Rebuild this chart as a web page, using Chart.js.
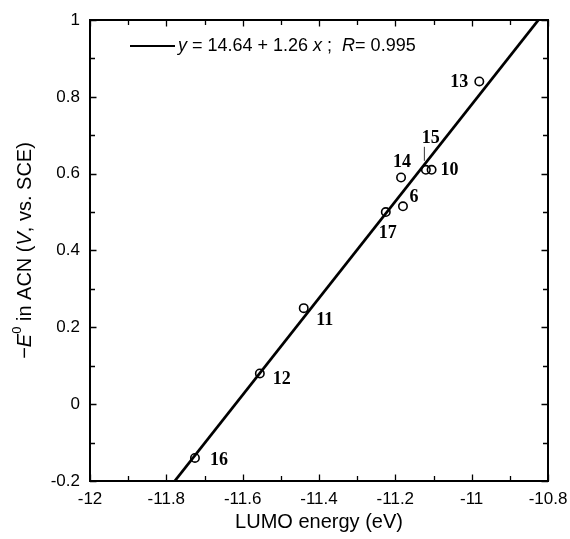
<!DOCTYPE html>
<html>
<head>
<meta charset="utf-8">
<script src="https://cdn.jsdelivr.net/npm/chart.js@4"></script>
<style>
  html, body { margin: 0; padding: 0; background: #fff; }
  #wrap { width: 570px; height: 539px; }
</style>
</head>
<body>
<div id="wrap"><canvas id="c" width="570" height="539"></canvas></div>
<script>
// ---- data ----
const compoundIds = ['6', '10', '11', '12', '13', '14', '15', '16', '17'];
const lumoEnergy  = [-11.18, -11.105, -11.44, -11.555, -10.98, -11.185, -11.12, -11.725, -11.225];
const minusE0     = [0.515, 0.61, 0.25, 0.08, 0.84, 0.59, 0.61, -0.14, 0.50];
const fitX = [-11.778, -10.825];
const fitY = [-0.2, 1.0];
const xTicks = [-12, -11.8, -11.6, -11.4, -11.2, -11, -10.8];
const yTicks = [-0.2, 0, 0.2, 0.4, 0.6, 0.8, 1];
const legendParts = [['y', true], [' = 14.64 + 1.26 ', false], ['x', true], [' ;  ', false], ['R', true], ['= 0.995', false]];

// ---- styles (label offsets in px relative to each point) ----
const labelOffsets = {
  '6': [11, -9], '10': [18, 1], '11': [21, 12], '12': [22, 6], '13': [-20, 1],
  '14': [1, -15], '15': [5, -31], '16': [24, 2], '17': [2, 21]
};
const SANS = '"Liberation Sans", Arial, sans-serif';
const SERIF = '"Liberation Serif", "Times New Roman", serif';

const pointData = lumoEnergy.map((x, i) => ({ x: x, y: minusE0[i] }));
const lineData = fitX.map((x, i) => ({ x: x, y: fitY[i] }));

function fmt(v) { return String(Number(v.toFixed(1))); }

const decor = {
  id: 'decor',
  afterDraw(chart) {
    const ctx = chart.ctx;
    const a = chart.chartArea;
    const xs = chart.scales.x, ys = chart.scales.y;
    ctx.save();
    ctx.strokeStyle = '#000';
    ctx.fillStyle = '#000';
    // frame
    ctx.lineWidth = 2;
    ctx.strokeRect(a.left, a.top, a.right - a.left, a.bottom - a.top);
    // inward ticks (major + minor) on all four sides
    ctx.lineWidth = 1.3;
    const xmin = -12, ymin = -0.2;
    for (let k = 0; k <= 12; k++) {
      const v = xmin + k * 0.1;
      const px = Math.round(xs.getPixelForValue(v)) + 0.5;
      const len = (k % 2 === 0) ? 6.5 : 5;
      ctx.beginPath();
      ctx.moveTo(px, a.bottom); ctx.lineTo(px, a.bottom - len);
      ctx.moveTo(px, a.top); ctx.lineTo(px, a.top + len);
      ctx.stroke();
    }
    for (let k = 0; k <= 12; k++) {
      const v = ymin + k * 0.1;
      const py = Math.round(ys.getPixelForValue(v)) + 0.5;
      const len = (k % 2 === 0) ? 6.5 : 5;
      ctx.beginPath();
      ctx.moveTo(a.left, py); ctx.lineTo(a.left + len, py);
      ctx.moveTo(a.right, py); ctx.lineTo(a.right - len, py);
      ctx.stroke();
    }
    // point labels
    const meta = chart.getDatasetMeta(1);
    ctx.font = 'bold 18px ' + SERIF;
    ctx.textAlign = 'center';
    ctx.textBaseline = 'middle';
    meta.data.forEach((el, i) => {
      const id = compoundIds[i];
      const off = labelOffsets[id];
      ctx.fillText(id, el.x + off[0], el.y + off[1]);
      if (id === '15') {
        ctx.lineWidth = 0.8;
        ctx.beginPath();
        ctx.moveTo(el.x - 1.5, el.y - 23);
        ctx.lineTo(el.x - 1.5, el.y - 9);
        ctx.stroke();
      }
    });
    // legend
    ctx.lineWidth = 2;
    ctx.beginPath();
    ctx.moveTo(130, 46); ctx.lineTo(175, 46);
    ctx.stroke();
    ctx.textAlign = 'left';
    let x = 178;
    legendParts.forEach(([t, it]) => {
      ctx.font = (it ? 'italic ' : '') + '18px ' + SANS;
      ctx.fillText(t, x, 46);
      x += ctx.measureText(t).width;
    });
    // x title
    ctx.font = '20px ' + SANS;
    ctx.textAlign = 'center';
    ctx.fillText('LUMO energy (eV)', (a.left + a.right) / 2, 522);
    // y title (rotated)
    const parts = [['\u2212', '', 20, 0], ['E', 'italic ', 20, 0], ['0', '', 13, -8], [' in ACN (', '', 20, 0], ['V', 'italic ', 20, 0], [', vs. SCE)', '', 20, 0]];
    ctx.translate(25, (a.top + a.bottom) / 2);
    ctx.rotate(-Math.PI / 2);
    let total = 0;
    parts.forEach(p => { ctx.font = p[1] + p[2] + 'px ' + SANS; total += ctx.measureText(p[0]).width; });
    let cx = -total / 2;
    ctx.textAlign = 'left';
    parts.forEach(p => {
      ctx.font = p[1] + p[2] + 'px ' + SANS;
      ctx.fillText(p[0], cx, p[3]);
      cx += ctx.measureText(p[0]).width;
    });
    ctx.restore();
  }
};

new Chart(document.getElementById('c'), {
  type: 'scatter',
  data: {
    datasets: [
      {
        label: 'fit',
        data: lineData,
        showLine: true,
        borderColor: '#000',
        borderWidth: 2.8,
        pointRadius: 0,
        fill: false
      },
      {
        label: 'compounds',
        data: pointData,
        pointStyle: 'circle',
        pointRadius: 4.2,
        pointBorderWidth: 1.6,
        pointBorderColor: '#000',
        pointBackgroundColor: 'rgba(0,0,0,0)',
        showLine: false
      }
    ]
  },
  options: {
    responsive: false,
    animation: false,
    events: [],
    layout: { padding: { top: 20, right: 22, left: 0, bottom: 0 } },
    plugins: { legend: { display: false }, tooltip: { enabled: false } },
    scales: {
      x: {
        type: 'linear',
        min: -12, max: -10.8,
        afterFit(s) { s.height = 58; s.paddingLeft = 0; s.paddingRight = 0; },
        afterBuildTicks(s) { s.ticks = xTicks.map(v => ({ value: v })); },
        grid: { display: false, drawTicks: false },
        border: { display: false },
        ticks: { color: '#000', font: { family: SANS, size: 17 }, padding: 8, maxRotation: 0, autoSkip: false, callback: v => fmt(v) }
      },
      y: {
        type: 'linear',
        min: -0.2, max: 1,
        afterFit(s) { s.width = 90; s.paddingTop = 0; s.paddingBottom = 0; },
        afterBuildTicks(s) { s.ticks = yTicks.map(v => ({ value: v })); },
        grid: { display: false, drawTicks: false },
        border: { display: false },
        ticks: { color: '#000', font: { family: SANS, size: 17 }, padding: 10, autoSkip: false, callback: v => fmt(v) }
      }
    }
  },
  plugins: [decor]
});
</script>
</body>
</html>
